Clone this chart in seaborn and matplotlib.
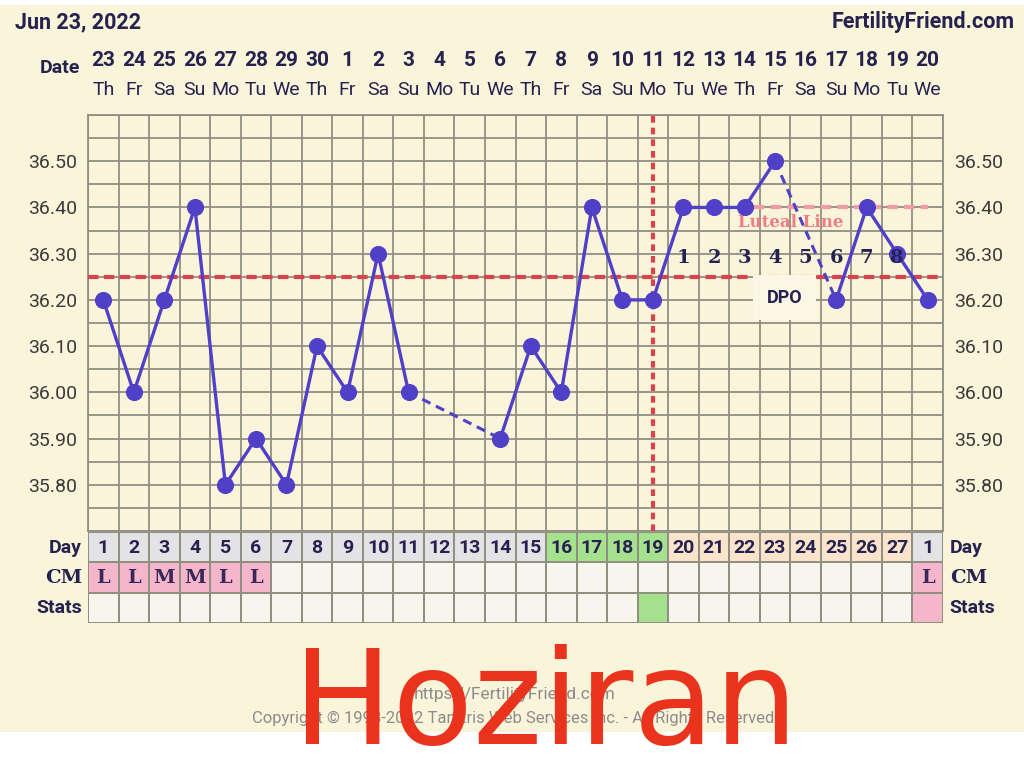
import numpy as np
import pandas as pd
import matplotlib
matplotlib.use('Agg')
import matplotlib.pyplot as plt
import matplotlib.transforms as mtransforms
from matplotlib.colors import ListedColormap
from matplotlib.patches import Rectangle
import seaborn as sns

# ---------------- data ----------------
dates = [23, 24, 25, 26, 27, 28, 29, 30, 1, 2, 3, 4, 5, 6,
         7, 8, 9, 10, 11, 12, 13, 14, 15, 16, 17, 18, 19, 20]
weekdays = ['Th', 'Fr', 'Sa', 'Su', 'Mo', 'Tu', 'We', 'Th', 'Fr', 'Sa', 'Su', 'Mo', 'Tu', 'We',
            'Th', 'Fr', 'Sa', 'Su', 'Mo', 'Tu', 'We', 'Th', 'Fr', 'Sa', 'Su', 'Mo', 'Tu', 'We']
temps = [36.20, 36.00, 36.20, 36.40, 35.80, 35.90, 35.80, 36.10, 36.00, 36.30,
         36.00, np.nan, np.nan, 35.90, 36.10, 36.00, 36.40, 36.20, 36.20, 36.40,
         36.40, 36.40, 36.50, np.nan, 36.20, 36.40, 36.30, 36.20]
cycle_days = list(range(1, 28)) + [1]
cm_marks = ['L', 'L', 'M', 'M', 'L', 'L'] + [''] * 21 + ['L']
day_row_kind = ['grey'] * 15 + ['green'] * 4 + ['peach'] * 8 + ['grey']
cm_row_kind = ['pink'] * 6 + ['blank'] * 21 + ['pink']
stats_row_kind = ['blank'] * 18 + ['green'] + ['blank'] * 8 + ['pink']
temp_ticks = [35.80, 35.90, 36.00, 36.10, 36.20, 36.30, 36.40, 36.50]
coverline = 36.25
ovulation_col = 19
luteal_level = 36.40
dpo_numbers = [1, 2, 3, 4, 5, 6, 7, 8]
dpo_cols = [20, 21, 22, 23, 24, 25, 26, 27]

# ---------------- style ----------------
CREAM = '#FAF5DA'
GRID = '#8F8F82'
LINE = '#5040C8'
RED = '#D9434C'
PINK = '#F39AA2'
NAVY = '#26224F'
kind_colors = {'blank': '#F6F5EE', 'grey': '#E3E3E6', 'green': '#A6E28E',
               'peach': '#FBE3CC', 'pink': '#F4B6CA'}
kinds = list(kind_colors.keys())

sns.set_style('white')
plt.rcParams['font.family'] = ['Roboto', 'DejaVu Sans']

W, H = 1024, 774
fig = plt.figure(figsize=(W / 100, H / 100), dpi=100, facecolor='white')
fig.patches.append(Rectangle((0, 1 - 732 / H), 1, (732 - 5) / H, transform=fig.transFigure,
                             facecolor=CREAM, edgecolor='none', zorder=-10))

def fy(py):
    return 1 - py / H

ax = fig.add_axes([88 / W, fy(531), 855 / W, (531 - 115) / H])
tab = fig.add_axes([88 / W, fy(623), 855 / W, (623 - 532) / H])

# ---------------- temperature chart ----------------
cols = np.arange(1, len(temps) + 1)
df = pd.DataFrame({'col': cols, 'temp': temps})
df['segment'] = df['temp'].isna().cumsum()
valid = df.dropna()

ax.set_facecolor(CREAM)
sns.lineplot(data=valid, x='col', y='temp', units='segment', estimator=None,
             color=LINE, lw=2.4, ax=ax, legend=False, zorder=4)
sns.scatterplot(data=valid, x='col', y='temp', s=130, color=LINE, edgecolor=LINE,
                ax=ax, legend=False, zorder=5)

# dashed joins across missing days
vc = valid['col'].to_numpy()
vt = valid['temp'].to_numpy()
for i in range(len(vc) - 1):
    if vc[i + 1] - vc[i] > 1:
        ax.plot([vc[i], vc[i + 1]], [vt[i], vt[i + 1]], color=LINE, lw=2.2,
                ls=(0, (3, 2)), zorder=4)

ax.set_xlim(0.5, len(temps) + 0.5)
ax.set_ylim(35.70, 36.60)
ax.set_xticks(np.arange(0.5, len(temps) + 1, 1))
ax.set_yticks(np.arange(35.70, 36.601, 0.05), minor=True)
ax.set_yticks(temp_ticks)
ax.set_yticklabels([f'{t:.2f}' for t in temp_ticks])
ax.grid(True, which='both', color=GRID, lw=1.3, zorder=0)
ax.tick_params(axis='x', length=0, labelbottom=False)
ax.tick_params(axis='y', which='both', length=0, labelsize=14, labelcolor='#3A3A3A',
               labelright=True, pad=8)
ax.set_xlabel('')
ax.set_ylabel('')
for s in ax.spines.values():
    s.set_color(GRID)
    s.set_linewidth(1.3)

ax.axhline(coverline, color=RED, lw=3, ls=(0, (2.5, 1.3)), zorder=3)
ax.axvline(ovulation_col, color=RED, lw=3, ls=(0, (1.6, 1.2)), zorder=3)
ax.plot([22.3, 28], [luteal_level, luteal_level], color=PINK, lw=3,
        ls=(0, (2.5, 1.5)), zorder=3)
ax.text(23.5, 36.368, 'Luteal Line', color='#F07C84', fontsize=12, fontweight='bold',
        family='DejaVu Serif', ha='center', va='center', zorder=3)
for n, c in zip(dpo_numbers, dpo_cols):
    ax.text(c, 36.29, str(n), color=NAVY, fontsize=14, fontweight='bold',
            family='DejaVu Serif', ha='center', va='center', zorder=6)
ax.text(23.3, 36.205, 'DPO', color=NAVY, fontsize=13, fontweight='bold',
        ha='center', va='center', zorder=3,
        bbox=dict(facecolor='#FBF7E4', edgecolor='none', boxstyle='square,pad=0.75'))

# ---------------- header ----------------
hdr = mtransforms.blended_transform_factory(ax.transData, fig.transFigure)
for c, d, w in zip(cols, dates, weekdays):
    ax.text(c, fy(60), str(d), transform=hdr, ha='center', va='center',
            fontsize=15, fontweight='bold', color=NAVY)
    ax.text(c, fy(90), w, transform=hdr, ha='center', va='center',
            fontsize=14, color=NAVY)
fig.text(60 / W, fy(68), 'Date', ha='center', va='center', fontsize=14,
         fontweight='bold', color=NAVY)
fig.text(15 / W, fy(22), 'Jun 23, 2022', ha='left', va='center', fontsize=15.5,
         fontweight='bold', color=NAVY)
fig.text(1015 / W, fy(22), 'FertilityFriend.com', ha='right', va='center',
         fontsize=15.5, fontweight='bold', color=NAVY)

# ---------------- bottom table ----------------
codes = np.array([[kinds.index(k) for k in day_row_kind],
                  [kinds.index(k) for k in cm_row_kind],
                  [kinds.index(k) for k in stats_row_kind]])
sns.heatmap(codes, ax=tab, cmap=ListedColormap([kind_colors[k] for k in kinds]),
            vmin=-0.5, vmax=len(kinds) - 0.5, cbar=False, linewidths=1.3,
            linecolor=GRID, xticklabels=False, yticklabels=False)
for i, (d, m) in enumerate(zip(cycle_days, cm_marks)):
    tab.text(i + 0.5, 0.52, str(d), ha='center', va='center', fontsize=14,
             fontweight='bold', color=NAVY)
    if m:
        tab.text(i + 0.5, 1.52, m, ha='center', va='center', fontsize=14,
                 fontweight='bold', family='DejaVu Serif', color='#3A2658')
row_labels = ['Day', 'CM', 'Stats']
for r, lab in enumerate(row_labels):
    fam = 'DejaVu Serif' if lab == 'CM' else 'Roboto'
    tab.text(-0.2, r + 0.52, lab, ha='right', va='center', fontsize=14,
             fontweight='bold', family=fam, color=NAVY, clip_on=False)
    tab.text(len(temps) + 0.22, r + 0.52, lab, ha='left', va='center', fontsize=14,
             fontweight='bold', family=fam, color=NAVY, clip_on=False)

# ---------------- footer ----------------
fig.text(515 / W, fy(695), 'https://FertilityFriend.com', ha='center', va='center',
         fontsize=12.5, color='#8C8C8C')
fig.text(515 / W, fy(718), 'Copyright © 1998-2022 Tamtris Web Services Inc. - All Rights Reserved.',
         ha='center', va='center', fontsize=12, color='#8C8C8C')
# handwritten note drawn over the footer, as in the screenshot
fig.text(545 / W, fy(744), 'Hoziran', ha='center', va='baseline', fontsize=95,
         color='#E9331D', family='DejaVu Sans')

fig.savefig('out.png', dpi=100, facecolor='white')
